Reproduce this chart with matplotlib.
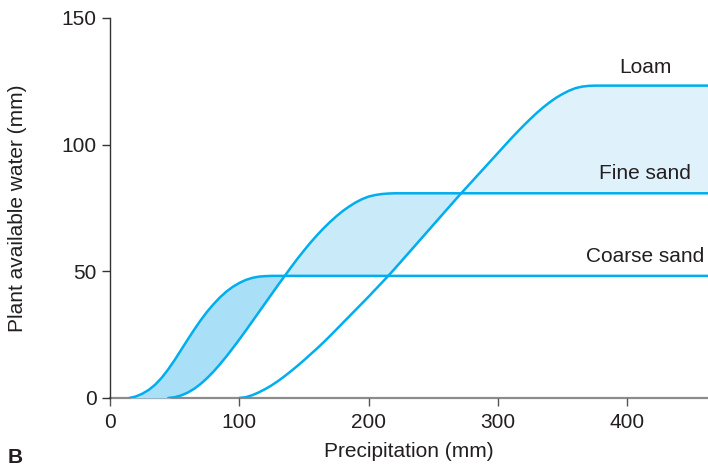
import numpy as np
import matplotlib
matplotlib.use('Agg')
import matplotlib.pyplot as plt

plt.rcParams['font.family'] = ['Liberation Sans', 'DejaVu Sans']

# precipitation (mm), shared by all three curves
precip = [10, 15, 20, 25, 30, 35, 40, 45, 50, 55, 60, 65, 70, 75, 80, 85, 90, 95,
          100, 105, 110, 115, 120, 125, 130, 135, 140, 145, 150, 155, 160, 165,
          170, 175, 180, 185, 190, 195, 200, 205, 210, 215, 220, 225, 230, 235,
          240, 245, 250, 255, 260, 265, 270, 275, 280, 285, 290, 295, 300, 305,
          310, 315, 320, 325, 330, 335, 340, 345, 350, 355, 360, 365, 370, 375,
          380, 470]

nan = np.nan
coarse_sand = [nan, 0.0, 0.6, 1.7, 3.2, 5.3, 8.0, 11.3, 15.0, 19.0, 23.0, 26.9,
               30.6, 34.0, 37.0, 39.7, 42.0, 43.9, 45.4, 46.6, 47.4, 47.9, 48.1,
               48.2, 48.2, 48.2, 48.2, 48.2, 48.2, 48.2, 48.2, 48.2, 48.2, 48.2,
               48.2, 48.2, 48.2, 48.2, 48.2, 48.2, 48.2, 48.2, 48.2, 48.2, 48.2,
               48.2, 48.2, 48.2, 48.2, 48.2, 48.2, 48.2, 48.2, 48.2, 48.2, 48.2,
               48.2, 48.2, 48.2, 48.2, 48.2, 48.2, 48.2, 48.2, 48.2, 48.2, 48.2,
               48.2, 48.2, 48.2, 48.2, 48.2, 48.2, 48.2, 48.2, 48.2]

fine_sand = [nan, nan, nan, nan, nan, nan, nan, 0.0, 0.3, 1.0, 2.1, 3.6, 5.5,
             7.8, 10.4, 13.3, 16.4, 19.7, 23.1, 26.6, 30.2, 33.8, 37.4, 41.0,
             44.6, 48.1, 51.6, 55.0, 58.2, 61.3, 64.2, 66.9, 69.4, 71.7, 73.8,
             75.6, 77.2, 78.5, 79.5, 80.1, 80.5, 80.7, 80.8, 80.8, 80.8, 80.8,
             80.8, 80.8, 80.8, 80.8, 80.8, 80.8, 80.8, 80.8, 80.8, 80.8, 80.8,
             80.8, 80.8, 80.8, 80.8, 80.8, 80.8, 80.8, 80.8, 80.8, 80.8, 80.8,
             80.8, 80.8, 80.8, 80.8, 80.8, 80.8, 80.8, 80.8]

loam = [nan, nan, nan, nan, nan, nan, nan, nan, nan, nan, nan, nan, nan, nan,
        nan, nan, nan, nan, 0.0, 0.3, 1.1, 2.2, 3.5, 5.0, 6.7, 8.6, 10.6, 12.7,
        14.9, 17.2, 19.5, 21.9, 24.4, 27.0, 29.6, 32.2, 34.8, 37.4, 40.0, 42.7,
        45.4, 48.1, 50.9, 53.8, 56.7, 59.6, 62.5, 65.4, 68.3, 71.2, 74.1, 77.0,
        79.9, 82.7, 85.5, 88.3, 91.1, 93.9, 96.7, 99.5, 102.3, 105.0, 107.6,
        110.1, 112.5, 114.7, 116.7, 118.5, 120.0, 121.3, 122.3, 122.9, 123.2,
        123.3, 123.3, 123.3]

labels = ['Coarse sand', 'Fine sand', 'Loam']
label_pos = [(414, 56), (414, 88.5), (414, 130.5)]

line_col = '#00aeef'
text_col = '#231f20'
fs = 15

x = np.array(precip, dtype=float)
c = np.nan_to_num(np.array(coarse_sand))
f = np.nan_to_num(np.array(fine_sand))
l = np.nan_to_num(np.array(loam))
lower = np.maximum(c, l)

fig = plt.figure(figsize=(7.08, 4.67), dpi=100)
ax = fig.add_axes([0.1554, 0.1478, 0.8446, 0.8137])

ax.fill_between(x, c, f, where=c > f, interpolate=True, color='#a9e0f8', lw=0)
ax.fill_between(x, f, lower, where=f > lower, interpolate=True, color='#c8eaf9', lw=0)
ax.fill_between(x, l, f, where=l > f, interpolate=True, color='#dff2fb', lw=0)

for ys in (coarse_sand, fine_sand, loam):
    ax.plot(precip, ys, color=line_col, lw=1.8, solid_capstyle='round')

for lab, (lx, ly) in zip(labels, label_pos):
    ax.text(lx, ly, lab, ha='center', va='center', fontsize=fs, color=text_col)

ax.set_xlim(0, 462.5)
ax.set_ylim(0, 150)
ax.set_xticks([0, 100, 200, 300, 400])
ax.set_yticks([0, 50, 100, 150])

for s in ('top', 'right'):
    ax.spines[s].set_visible(False)
ax.spines['bottom'].set_color('#8c8c8c')
ax.spines['bottom'].set_linewidth(1.6)
ax.spines['left'].set_color('#333333')
ax.spines['left'].set_linewidth(1.0)
ax.spines['bottom'].set_zorder(0.5)

ax.tick_params(axis='x', length=6, width=1.0, color='#555555', labelsize=fs,
               labelcolor=text_col, pad=5)
ax.tick_params(axis='y', length=6, width=1.0, color='#333333', labelsize=fs,
               labelcolor=text_col, pad=3.5)

ax.set_xlabel('Precipitation (mm)', fontsize=fs, color=text_col)
ax.set_ylabel('Plant available water (mm)', fontsize=fs, color=text_col)
ax.xaxis.set_label_coords(0.5, -0.115)
ax.yaxis.set_label_coords(-0.154, 0.5)
ax.yaxis.label.set_va('center')

fig.text(0.011, 0.008, 'B', fontsize=fs, fontweight='bold', color=text_col)

fig.savefig('out.png', dpi=100)
